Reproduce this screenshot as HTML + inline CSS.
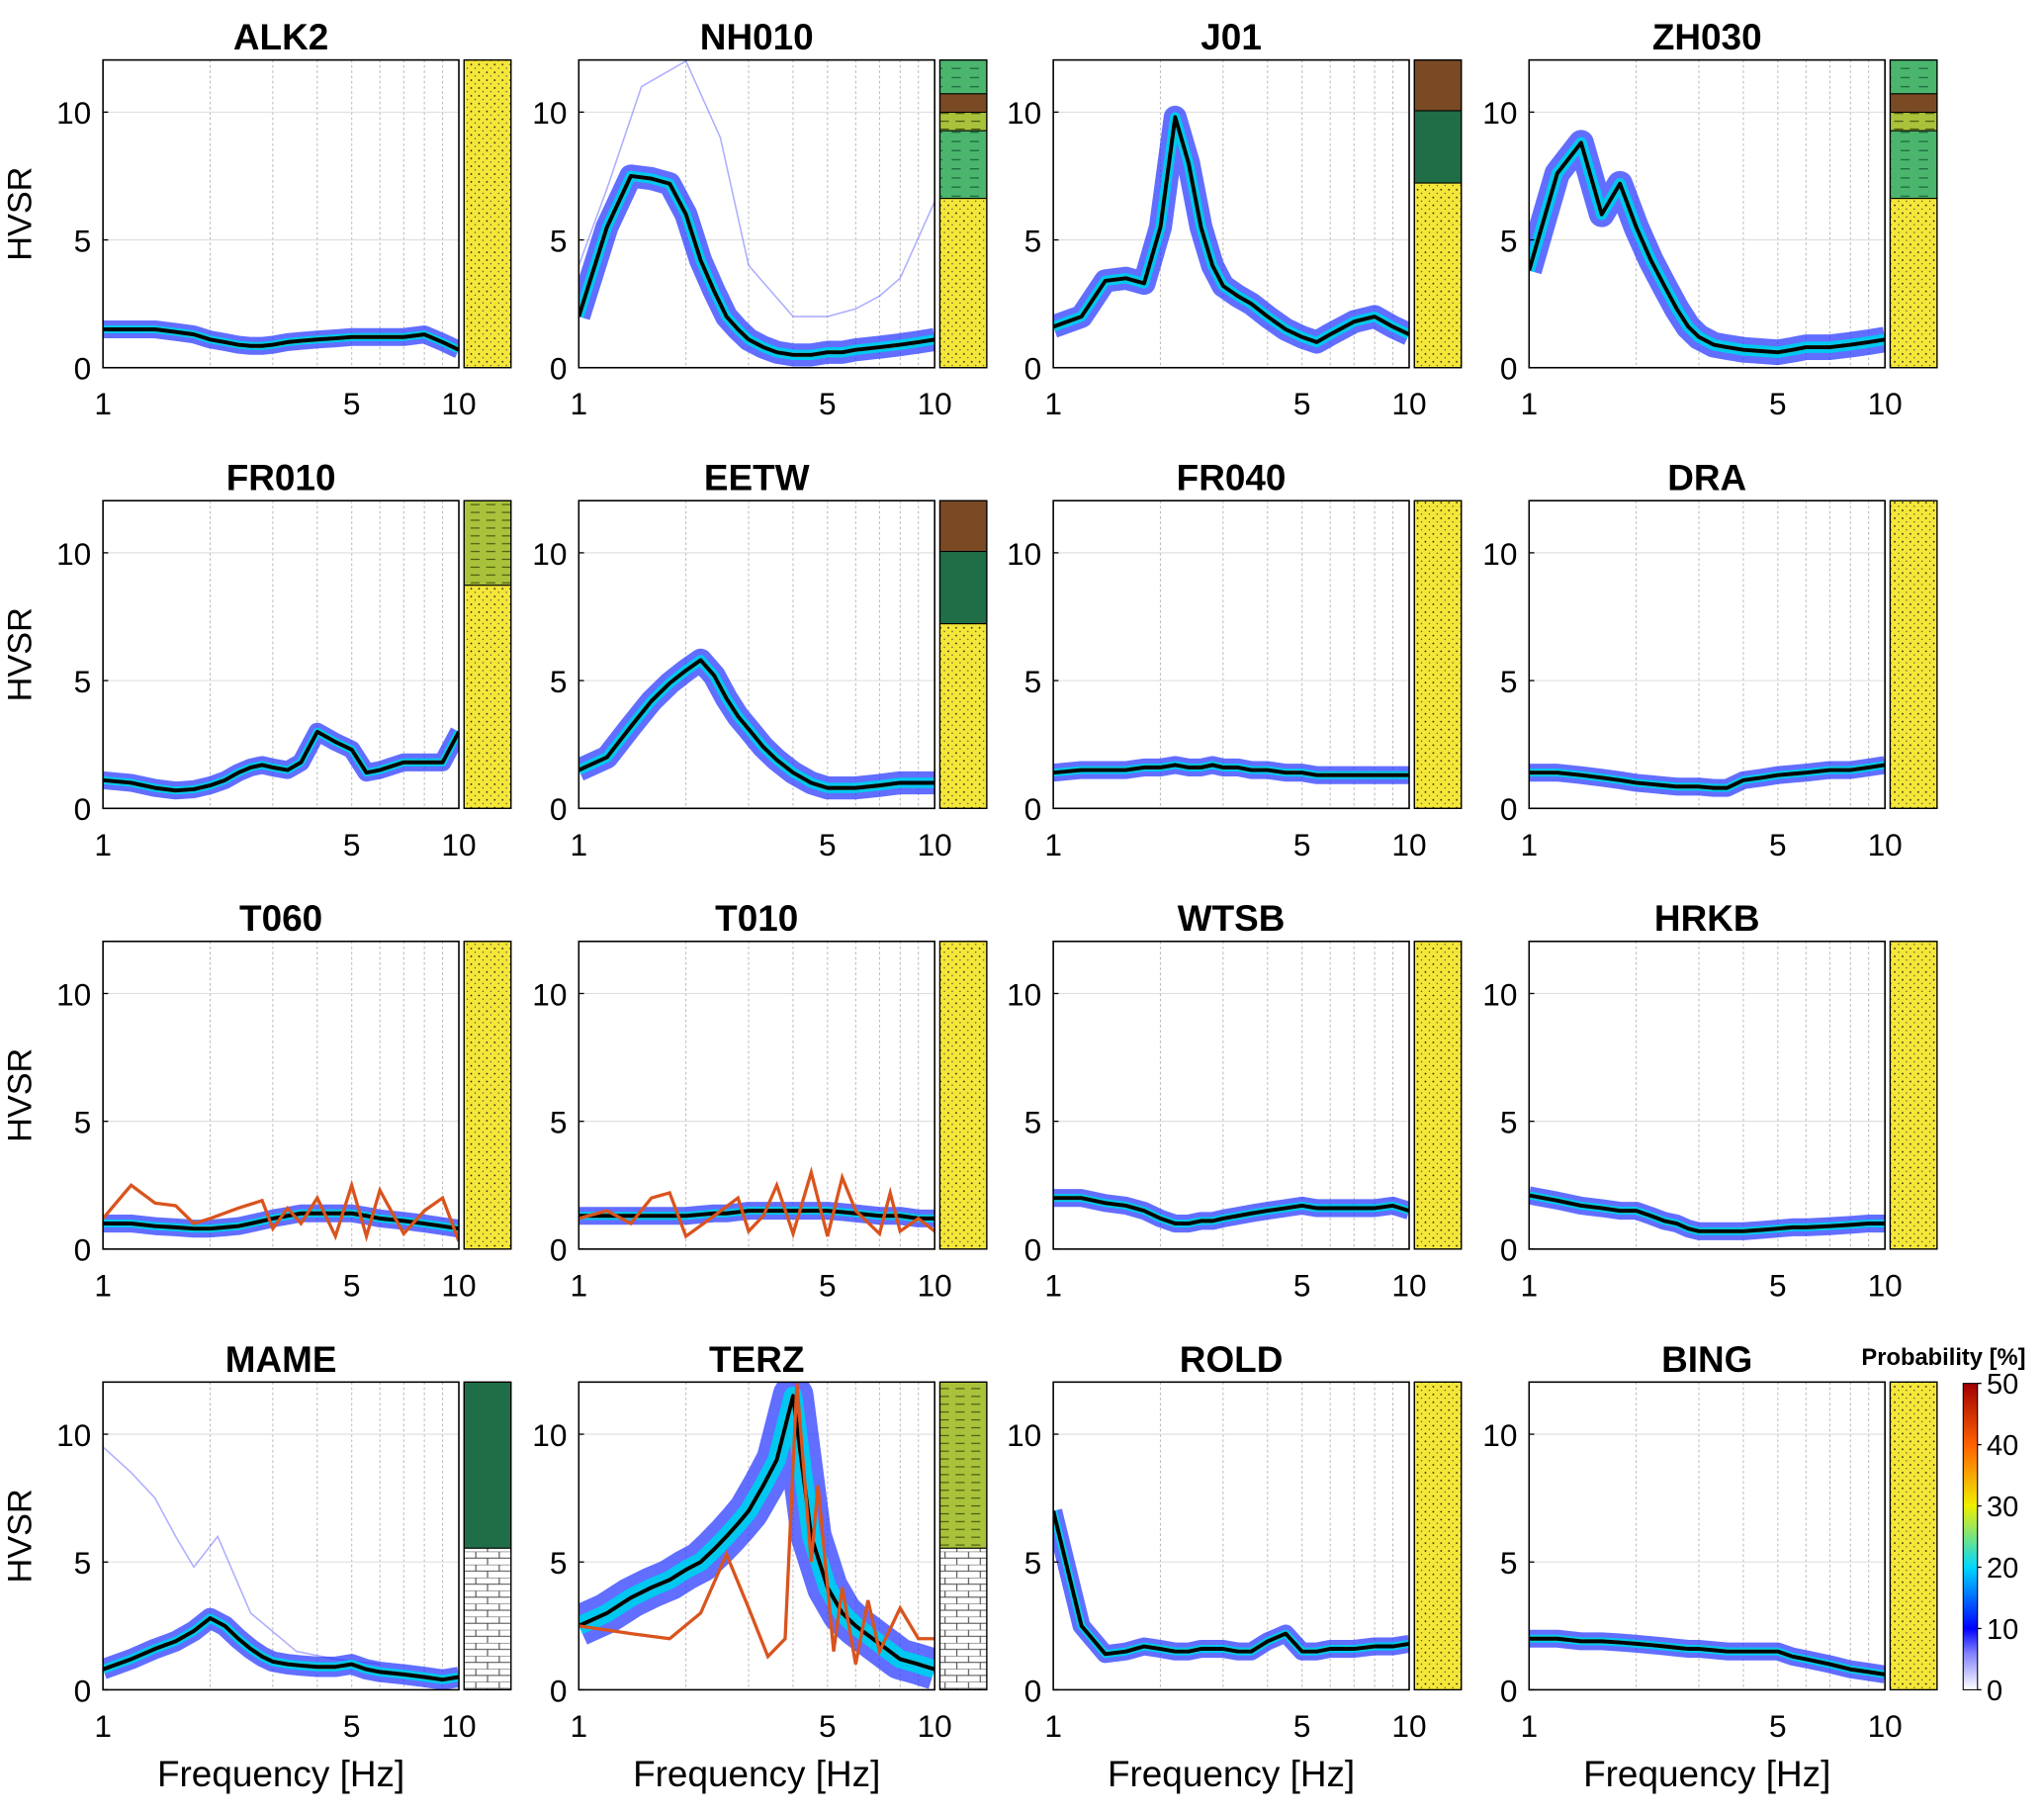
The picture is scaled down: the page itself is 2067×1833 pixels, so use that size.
<!DOCTYPE html>
<html><head><meta charset="utf-8">
<style>
html,body{margin:0;padding:0;background:#fff;}
svg{display:block;font-family:"Liberation Sans",sans-serif;}
</style></head>
<body>
<svg id="fig" xmlns="http://www.w3.org/2000/svg" width="2067" height="1833" viewBox="0 0 1568 1390.5">
<defs>
<pattern id="pDots" width="6" height="6" patternUnits="userSpaceOnUse">
<rect width="6" height="6" fill="#f4e73a"/><circle cx="1.5" cy="1.5" r="0.65" fill="#111"/><circle cx="4.5" cy="4.3" r="0.5" fill="#333"/>
</pattern>
<pattern id="pGreenDash" width="14" height="7" patternUnits="userSpaceOnUse">
<rect width="14" height="7" fill="#4bb56e"/><line x1="2" y1="3.5" x2="9" y2="3.5" stroke="#1d6b3e" stroke-width="1"/>
</pattern>
<pattern id="pOlive" width="12" height="6" patternUnits="userSpaceOnUse">
<rect width="12" height="6" fill="#a9c23b"/><line x1="1" y1="3" x2="8" y2="3" stroke="#4a5a10" stroke-width="0.9"/>
</pattern>
<pattern id="pBrick" width="18" height="10" patternUnits="userSpaceOnUse">
<rect width="18" height="10" fill="#fff"/><path d="M0 0H18M0 5H18M5 0V5M14 5V10" stroke="#444" stroke-width="0.8" fill="none"/>
</pattern>
<linearGradient id="cbGrad" x1="0" y1="1" x2="0" y2="0">
<stop offset="0" stop-color="#ffffff"/><stop offset="0.12" stop-color="#8080ff"/><stop offset="0.2" stop-color="#0000ff"/>
<stop offset="0.4" stop-color="#00d8ff"/><stop offset="0.6" stop-color="#f0f000"/><stop offset="0.8" stop-color="#ff6000"/><stop offset="1" stop-color="#a00000"/>
</linearGradient>
</defs>
</svg>
<script>
const freqs=[1,1.2,1.4,1.6,1.8,2,2.2,2.4,2.6,2.8,3,3.3,3.6,4,4.5,5,5.5,6,7,8,9,10];
const stationNames=["ALK2","NH010","J01","ZH030","FR010","EETW","FR040","DRA","T060","T010","WTSB","HRKB","MAME","TERZ","ROLD","BING"];
const mALK2=[1.5,1.5,1.5,1.4,1.3,1.1,1.0,0.9,0.85,0.85,0.9,1.0,1.05,1.1,1.15,1.2,1.2,1.2,1.2,1.3,1.0,0.7];
const mNH010=[2,5.5,7.5,7.4,7.2,6,4.2,3,2,1.5,1.1,0.8,0.6,0.5,0.5,0.6,0.6,0.7,0.8,0.9,1.0,1.1];
const mJ01=[1.6,2.0,3.4,3.5,3.3,5.5,9.8,8,5.5,4,3.2,2.8,2.5,2.0,1.5,1.2,1.0,1.3,1.8,2.0,1.6,1.3];
const mZH030=[3.8,7.6,8.8,6.0,7.2,5.5,4.2,3.2,2.3,1.6,1.2,0.9,0.8,0.7,0.65,0.6,0.7,0.8,0.8,0.9,1.0,1.1];
const mFR010=[1.1,1.0,0.8,0.7,0.75,0.9,1.1,1.4,1.6,1.7,1.6,1.5,1.8,3.0,2.6,2.3,1.4,1.5,1.8,1.8,1.8,3.0];
const mEETW=[1.5,2.0,3.2,4.2,4.9,5.4,5.8,5.2,4.3,3.6,3.1,2.4,1.9,1.4,1.0,0.8,0.8,0.8,0.9,1.0,1.0,1.0];
const mFR040=[1.4,1.5,1.5,1.5,1.6,1.6,1.7,1.6,1.6,1.7,1.6,1.6,1.5,1.5,1.4,1.4,1.3,1.3,1.3,1.3,1.3,1.3];
const mDRA=[1.4,1.4,1.3,1.2,1.1,1.0,0.95,0.9,0.85,0.85,0.85,0.8,0.8,1.1,1.2,1.3,1.35,1.4,1.5,1.5,1.6,1.7];
const mT060=[1.0,1.0,0.9,0.85,0.8,0.8,0.85,0.9,1.0,1.1,1.2,1.3,1.4,1.4,1.4,1.4,1.3,1.2,1.1,1.0,0.9,0.8];
const mT010=[1.3,1.3,1.3,1.3,1.3,1.3,1.35,1.4,1.4,1.45,1.5,1.5,1.5,1.5,1.5,1.5,1.45,1.4,1.3,1.3,1.2,1.2];
const mWTSB=[2.0,2.0,1.8,1.7,1.5,1.2,1.0,1.0,1.1,1.1,1.2,1.3,1.4,1.5,1.6,1.7,1.6,1.6,1.6,1.6,1.7,1.5];
const mHRKB=[2.1,1.9,1.7,1.6,1.5,1.5,1.3,1.1,1.0,0.8,0.7,0.7,0.7,0.7,0.75,0.8,0.85,0.85,0.9,0.95,1.0,1.0];
const mMAME=[0.8,1.2,1.6,1.9,2.3,2.8,2.5,2.0,1.6,1.3,1.1,1.0,0.95,0.9,0.9,1.0,0.8,0.7,0.6,0.5,0.4,0.5];
const mTERZ=[2.5,3.0,3.6,4.0,4.3,4.7,5.0,5.5,6.0,6.5,7.0,8.0,9.0,11.5,6.0,4.0,3.0,2.5,1.8,1.2,1.0,0.8];
const mROLD=[7.0,2.5,1.4,1.5,1.7,1.6,1.5,1.5,1.6,1.6,1.6,1.5,1.5,1.9,2.2,1.5,1.5,1.6,1.6,1.7,1.7,1.8];
const mBING=[2.0,2.0,1.9,1.9,1.85,1.8,1.75,1.7,1.65,1.6,1.6,1.55,1.5,1.5,1.5,1.5,1.3,1.2,1.0,0.8,0.7,0.6];
const medianSeries=[mALK2,mNH010,mJ01,mZH030,mFR010,mEETW,mFR040,mDRA,mT060,mT010,mWTSB,mHRKB,mMAME,mTERZ,mROLD,mBING];
const bandSpread=[0.35,0.45,0.45,0.5,0.35,0.45,0.35,0.35,0.35,0.35,0.35,0.35,0.4,0.8,0.35,0.35];
const redT060F=[1,1.2,1.4,1.6,1.8,2,2.4,2.8,3,3.3,3.6,4,4.5,5,5.5,6,7,8,9,10];
const redT060V=[1.2,2.5,1.8,1.7,1.0,1.2,1.6,1.9,0.8,1.6,1.0,2.0,0.5,2.5,0.5,2.3,0.6,1.5,2.0,0.3];
const redT010F=[1,1.2,1.4,1.6,1.8,2,2.4,2.8,3,3.3,3.6,4,4.5,5,5.5,6,7,7.5,8,9,10];
const redT010V=[1.2,1.5,1.0,2.0,2.2,0.5,1.3,2.0,0.7,1.3,2.5,0.6,3.0,0.5,2.8,1.5,0.6,2.2,0.7,1.2,0.7];
const redTERZF=[1,1.4,1.8,2.2,2.6,3,3.4,3.8,4.1,4.5,4.7,5.2,5.5,6,6.5,7,8,9,10];
const redTERZV=[2.5,2.2,2.0,3.0,5.3,3.2,1.3,2.0,12,5.0,8.0,1.5,4.0,1.0,3.5,1.5,3.2,2.0,2.0];
const faintMAMEF=[1,1.2,1.4,1.6,1.8,2.1,2.6,3.5,4.5,6];
const faintMAMEV=[9.5,8.5,7.5,6.0,4.8,6.0,3.0,1.5,1.2,1.0];
const faintNH010F=[1,1.2,1.5,2,2.5,3,4,5,6,7,8,10];
const faintNH010V=[4,7,11,12,9,4,2,2,2.3,2.8,3.5,6.5];
const ytickVals=[0,5,10];
const xtickVals=[1,5,10];
const gridFreqs=[2,3,4,5,6,7,8,9];
const cbTicks=[0,10,20,30,40,50];
const stratLayers=[
 [[0,1,"pDots"]],
 [[0,0.11,"pGreenDash"],[0.11,0.17,"brown"],[0.17,0.23,"pOlive"],[0.23,0.45,"pGreenDash"],[0.45,1,"pDots"]],
 [[0,0.165,"brown"],[0.165,0.4,"dkgreen"],[0.4,1,"pDots"]],
 [[0,0.11,"pGreenDash"],[0.11,0.17,"brown"],[0.17,0.23,"pOlive"],[0.23,0.45,"pGreenDash"],[0.45,1,"pDots"]],
 [[0,0.275,"pOlive"],[0.275,1,"pDots"]],
 [[0,0.165,"brown"],[0.165,0.4,"dkgreen"],[0.4,1,"pDots"]],
 [[0,1,"pDots"]],[[0,1,"pDots"]],[[0,1,"pDots"]],[[0,1,"pDots"]],[[0,1,"pDots"]],[[0,1,"pDots"]],
 [[0,0.54,"dkgreen"],[0.54,1,"pBrick"]],
 [[0,0.54,"pOlive"],[0.54,1,"pBrick"]],
 [[0,1,"pDots"]],[[0,1,"pDots"]]
];
const NS="http://www.w3.org/2000/svg";
const svg=document.getElementById("fig");
const colX=[79,444,808,1173], rowB=[282,620,958,1296], PW=273, PH=236, YMAX=12.04;
function mk(tag,attrs,parent){const e=document.createElementNS(NS,tag);for(const k in attrs)e.setAttribute(k,attrs[k]);(parent||svg).appendChild(e);return e;}
function fillOf(n){return n==="brown"?"#7a4a24":n==="dkgreen"?"#1f6e47":"url(#"+n+")";}
stationNames.forEach((name,i)=>{
 const c=i%4,r=Math.floor(i/4),x0=colX[c],yb=rowB[r],yt=yb-PH;
 const xs=f=>x0+PW*Math.log10(f);
 const ys=v=>yb-PH*Math.min(v,YMAX)/YMAX;
 const g=mk("g",{});
 
 
 mk("rect",{x:x0,y:yt,width:PW,height:PH,fill:"#fff"},g);
 gridFreqs.forEach(f=>{mk("line",{x1:xs(f),x2:xs(f),y1:yt,y2:yb,stroke:"#bbb","stroke-width":0.8,"stroke-dasharray":"2,2"},g);});
 [5,10].forEach(v=>{mk("line",{x1:x0,x2:x0+PW,y1:ys(v),y2:ys(v),stroke:"#ddd","stroke-width":0.8},g);});
 const clip=mk("clipPath",{id:"clip"+i},g);mk("rect",{x:x0,y:yt,width:PW,height:PH},clip);
 const cg=mk("g",{"clip-path":"url(#clip"+i+")"},g);
 const med=medianSeries[i],sp=bandSpread[i];
 const pts=(F,V)=>F.map((f,k)=>xs(f).toFixed(1)+","+ys(V[k]).toFixed(1)).join(" ");
 if(name==="NH010"){const l=mk("polyline",{points:pts(faintNH010F,faintNH010V),fill:"none",stroke:"#6060ff","stroke-width":1.2,opacity:0.5},cg);}
 if(name==="MAME"){const l=mk("polyline",{points:pts(faintMAMEF,faintMAMEV),fill:"none",stroke:"#6060ff","stroke-width":1.2,opacity:0.5},cg);}
 const p=pts(freqs,med);
 const band=mk("polyline",{points:p,fill:"none",stroke:"#2030ff","stroke-width":PH*sp*2/YMAX,"stroke-linejoin":"round",opacity:0.7},cg);
 
 
 mk("polyline",{points:p,fill:"none",stroke:"#00c8f0","stroke-width":PH*sp*0.9/YMAX,"stroke-linejoin":"round"},cg);
 mk("polyline",{points:p,fill:"none",stroke:"#e8e820","stroke-width":3,"stroke-linejoin":"round"},cg);
 const ml=mk("polyline",{points:p,fill:"none",stroke:"#000","stroke-width":3,"stroke-linejoin":"round"},cg);
 
 
 let rf=null,rv=null;
 if(name==="T060"){rf=redT060F;rv=redT060V;} if(name==="T010"){rf=redT010F;rv=redT010V;} if(name==="TERZ"){rf=redTERZF;rv=redTERZV;}
 if(rf){const rl=mk("polyline",{points:pts(rf,rv),fill:"none",stroke:"#d9541e","stroke-width":2.5},cg);
  
  }
 mk("rect",{x:x0,y:yt,width:PW,height:PH,fill:"none",stroke:"#000","stroke-width":1.2},g);
 ytickVals.forEach(v=>{mk("line",{x1:x0,x2:x0+4,y1:ys(v),y2:ys(v),stroke:"#000"},g);
  const t=mk("text",{x:x0-9,y:ys(v)+9,"text-anchor":"end","font-size":24},g);t.textContent=v;
  });
 xtickVals.forEach(v=>{const t=mk("text",{x:xs(v),y:yb+36,"text-anchor":"middle","font-size":24},g);t.textContent=v;
  });
 const tt=mk("text",{x:x0+PW/2,y:yt-8,"text-anchor":"middle","font-size":28,"font-weight":"bold"},g);tt.textContent=name;
 
 const sx=x0+PW+4,sw=36;
 const sc=mk("g",{},g);
 
 
 stratLayers[i].forEach(L=>{mk("rect",{x:sx,y:yt+PH*L[0],width:sw,height:PH*(L[1]-L[0]),fill:fillOf(L[2]),stroke:"#000","stroke-width":0.8},sc);});
 mk("rect",{x:sx,y:yt,width:sw,height:PH,fill:"none",stroke:"#000","stroke-width":1},sc);
 if(c===0){const yl=mk("text",{x:0,y:0,transform:"translate(24,"+(yt+PH/2)+") rotate(-90)","text-anchor":"middle","font-size":26},g);yl.textContent="HVSR";
  }
 if(r===3){const xl=mk("text",{x:x0+PW/2,y:1370,"text-anchor":"middle","font-size":28},g);xl.textContent="Frequency [Hz]";
  }
});
const cb=mk("g",{});


mk("rect",{x:1506,y:1061,width:11,height:235,fill:"url(#cbGrad)",stroke:"#000","stroke-width":0.8},cb);
cbTicks.forEach(v=>{const y=1296-235*v/50;mk("line",{x1:1517,x2:1520,y1:y,y2:y,stroke:"#000"},cb);
 const t=mk("text",{x:1524,y:y+8,"font-size":22},cb);t.textContent=v;
 });
const ct=mk("text",{x:1428,y:1047,"font-size":18,"font-weight":"bold"},cb);ct.textContent="Probability [%]";

</script>
</body></html>
